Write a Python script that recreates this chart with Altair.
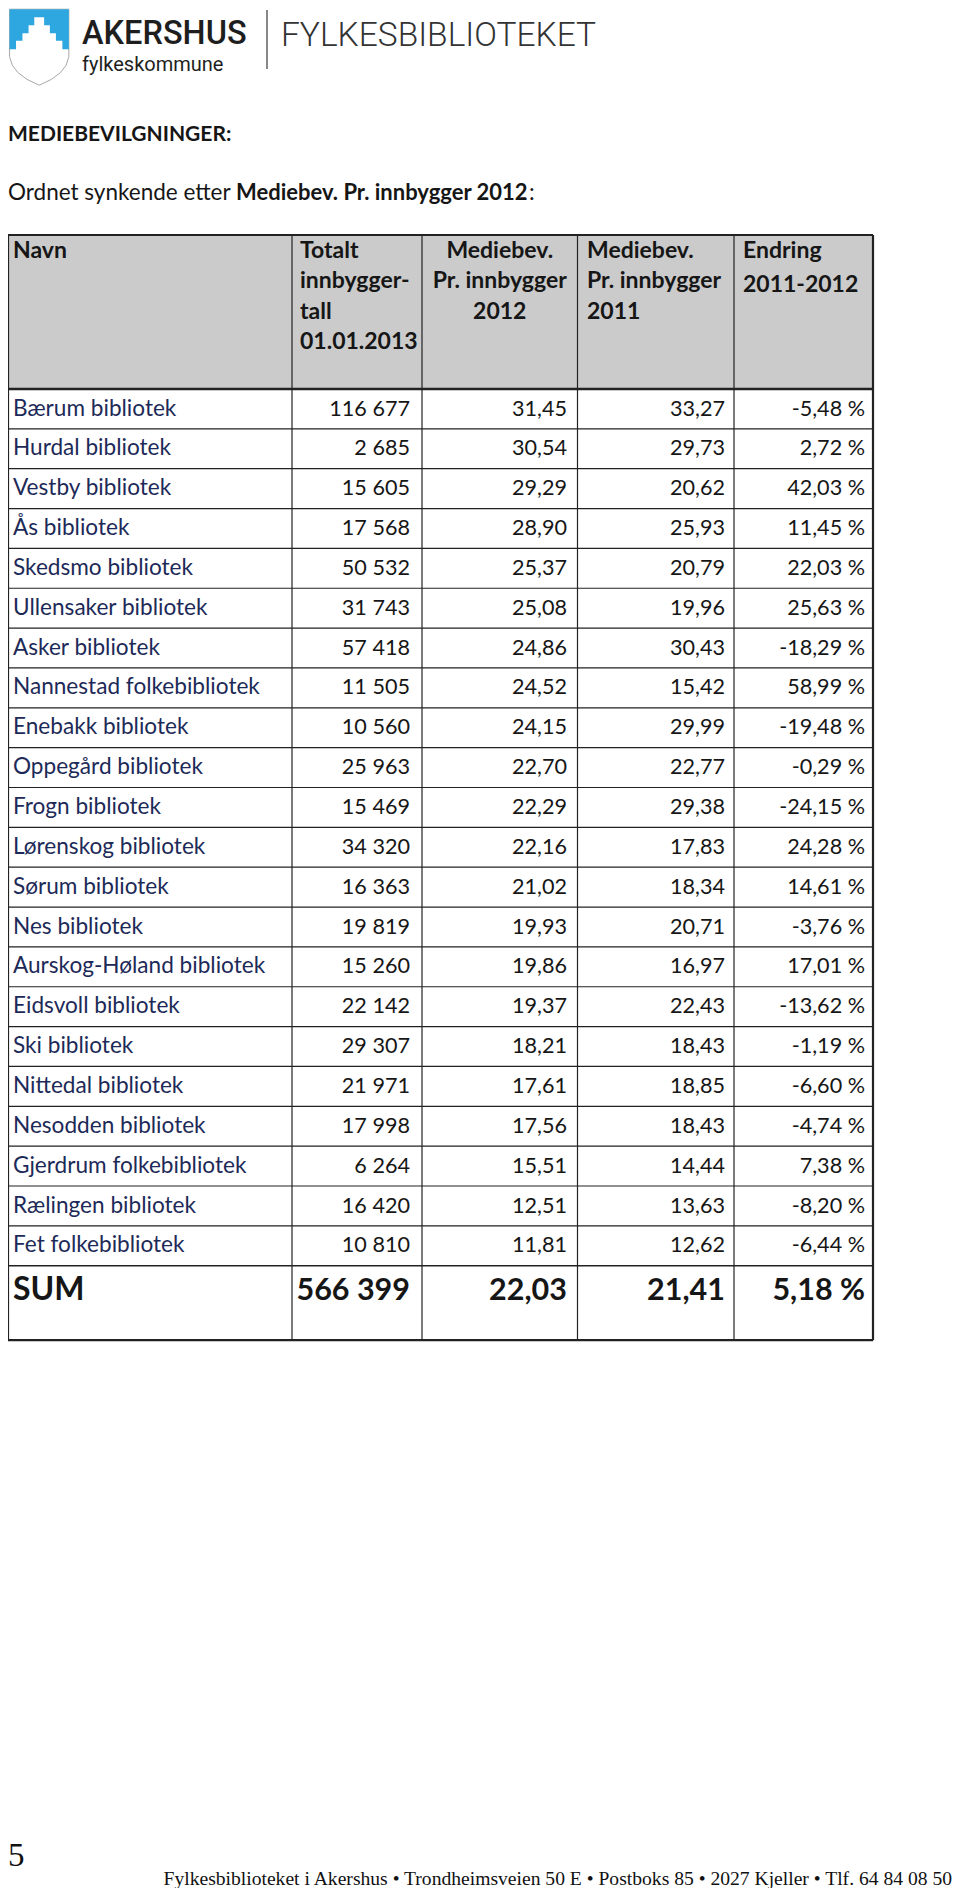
import altair as alt
import pandas as pd

W, H = 944, 1880

# ---------------- data ----------------
names = [
    "Bærum bibliotek", "Hurdal bibliotek", "Vestby bibliotek", "Ås bibliotek",
    "Skedsmo bibliotek", "Ullensaker bibliotek", "Asker bibliotek",
    "Nannestad folkebibliotek", "Enebakk bibliotek", "Oppegård bibliotek",
    "Frogn bibliotek", "Lørenskog bibliotek", "Sørum bibliotek", "Nes bibliotek",
    "Aurskog-Høland bibliotek", "Eidsvoll bibliotek", "Ski bibliotek",
    "Nittedal bibliotek", "Nesodden bibliotek", "Gjerdrum folkebibliotek",
    "Rælingen bibliotek", "Fet folkebibliotek",
]
population = [116677, 2685, 15605, 17568, 50532, 31743, 57418, 11505, 10560, 25963,
              15469, 34320, 16363, 19819, 15260, 22142, 29307, 21971, 17998, 6264,
              16420, 10810]
per_capita_2012 = [31.45, 30.54, 29.29, 28.90, 25.37, 25.08, 24.86, 24.52, 24.15, 22.70,
                   22.29, 22.16, 21.02, 19.93, 19.86, 19.37, 18.21, 17.61, 17.56, 15.51,
                   12.51, 11.81]
per_capita_2011 = [33.27, 29.73, 20.62, 25.93, 20.79, 19.96, 30.43, 15.42, 29.99, 22.77,
                   29.38, 17.83, 18.34, 20.71, 16.97, 22.43, 18.43, 18.85, 18.43, 14.44,
                   13.63, 12.62]
change_pct = [-5.48, 2.72, 42.03, 11.45, 22.03, 25.63, -18.29, 58.99, -19.48, -0.29,
              -24.15, 24.28, 14.61, -3.76, 17.01, -13.62, -1.19, -6.60, -4.74, 7.38,
              -8.20, -6.44]
sum_label = "SUM"
sum_values = [566399, 22.03, 21.41, 5.18]

header_lines = [
    ["Navn"],
    ["Totalt", "innbygger-", "tall", "01.01.2013"],
    ["Mediebev.", "Pr. innbygger", "2012"],
    ["Mediebev.", "Pr. innbygger", "2011"],
    ["Endring", "2011-2012"],
]

title_text = "MEDIEBEVILGNINGER:"
subtitle_regular = "Ordnet synkende etter"
subtitle_bold = "Mediebev. Pr. innbygger 2012"
footer_text = ("Fylkesbiblioteket i Akershus \u2022 Trondheimsveien 50 E \u2022 Postboks 85 "
               "\u2022 2027 Kjeller \u2022 Tlf. 64 84 08 50")
page_number = "5"


def fmt_int(v):
    return f"{v:,}".replace(",", " ")


def fmt_dec(v):
    return f"{v:.2f}".replace(".", ",")


def fmt_pct(v):
    return fmt_dec(v) + " %"


# ---------------- layout ----------------
col_edges = [0, 284, 414, 569.5, 726, 865]
table_top, header_bottom, row_h = 227, 381, 39.85
n = len(names)
data_bottom = header_bottom + n * row_h
sum_bottom = data_bottom + 74.5
num_right = [402, 559, 717, 857]
head_x = [5, 292, (col_edges[2] + col_edges[3]) / 2, 579, 735]
head_align = ["left", "left", "center", "left", "left"]
head_base, head_step = 250, 30.4

xs = alt.Scale(domain=[0, W], nice=False, zero=False)
ys = alt.Scale(domain=[0, H], nice=False, zero=False, reverse=True)
X = lambda f: alt.X(f, type="quantitative", scale=xs, axis=None)
Y = lambda f: alt.Y(f, type="quantitative", scale=ys, axis=None)

FONT = "Lato"
NAVY = "#1d2a58"
INK = "#161616"

# header background
bg = pd.DataFrame([{"x1": col_edges[0], "x2": col_edges[-1], "y1": table_top, "y2": header_bottom}])
bg_layer = alt.Chart(bg).mark_rect(color="#cbcbcb").encode(
    x=X("x1"), x2="x2", y=Y("y1"), y2="y2")

# horizontal rules
hl = [{"y": table_top, "w": 2.2}, {"y": header_bottom, "w": 2.4}]
for i in range(1, n + 1):
    hl.append({"y": header_bottom + i * row_h, "w": 1.2 if i < n else 1.4})
hl.append({"y": sum_bottom, "w": 2.2})
hdf = pd.DataFrame(hl)
hdf["x1"] = col_edges[0]
hdf["x2"] = col_edges[-1]
h_layer = alt.Chart(hdf).mark_rule(color="#222222").encode(
    x=X("x1"), x2="x2", y=Y("y"), strokeWidth=alt.StrokeWidth("w:Q", scale=None))

vdf = pd.DataFrame([{"x": e, "y1": table_top, "y2": sum_bottom,
                     "w": 2.2 if k in (0, len(col_edges) - 1) else 1.2}
                    for k, e in enumerate(col_edges)])
v_layer = alt.Chart(vdf).mark_rule(color="#222222").encode(
    x=X("x"), y=Y("y1"), y2="y2", strokeWidth=alt.StrokeWidth("w:Q", scale=None))

# header texts
hrows = []
for c, lines in enumerate(header_lines):
    for j, t in enumerate(lines):
        yy = head_base + j * head_step + (4 if (c == 4 and j == 1) else 0)
        hrows.append({"x": head_x[c], "y": yy, "text": t, "align": head_align[c]})
hdr = pd.DataFrame(hrows)
hdr_layers = []
for al in ["left", "center"]:
    hdr_layers.append(
        alt.Chart(hdr[hdr["align"] == al]).mark_text(
            align=al, baseline="alphabetic", font=FONT, fontWeight="bold",
            fontSize=23, color=INK).encode(x=X("x"), y=Y("y"), text="text:N"))

# data cells
name_df = pd.DataFrame({"text": names,
                        "y": [header_bottom + i * row_h + 26.5 for i in range(n)]})
name_df["x"] = 5
name_layer = alt.Chart(name_df).mark_text(
    align="left", baseline="alphabetic", font=FONT, fontSize=22.6, color=NAVY).encode(
    x=X("x"), y=Y("y"), text="text:N")

num_rows = []
for i in range(n):
    yy = header_bottom + i * row_h + 26.5
    vals = [fmt_int(population[i]), fmt_dec(per_capita_2012[i]),
            fmt_dec(per_capita_2011[i]), fmt_pct(change_pct[i])]
    for k, t in enumerate(vals):
        num_rows.append({"x": num_right[k], "y": yy, "text": t})
num_layer = alt.Chart(pd.DataFrame(num_rows)).mark_text(
    align="right", baseline="alphabetic", font=FONT, fontSize=21.6, color=INK).encode(
    x=X("x"), y=Y("y"), text="text:N")

sum_y = data_bottom + 34
sum_df = pd.DataFrame([{"x": num_right[k], "y": sum_y, "text": t} for k, t in enumerate(
    [fmt_int(sum_values[0]), fmt_dec(sum_values[1]), fmt_dec(sum_values[2]), fmt_pct(sum_values[3])])])
sum_num_layer = alt.Chart(sum_df).mark_text(
    align="right", baseline="alphabetic", font=FONT, fontWeight="bold", fontSize=30.5,
    color=INK).encode(x=X("x"), y=Y("y"), text="text:N")
sum_lab_layer = alt.Chart(pd.DataFrame([{"x": 5, "y": sum_y, "text": sum_label}])).mark_text(
    align="left", baseline="alphabetic", font=FONT, fontWeight="bold", fontSize=32,
    color=INK).encode(x=X("x"), y=Y("y"), text="text:N")

# titles
title_layer = alt.Chart(pd.DataFrame([{"x": 0, "y": 133, "text": title_text}])).mark_text(
    align="left", baseline="alphabetic", font=FONT, fontWeight="bold", fontSize=21,
    color=INK).encode(x=X("x"), y=Y("y"), text="text:N")
sub_reg = alt.Chart(pd.DataFrame([{"x": 0, "y": 191.5, "text": subtitle_regular},
                                  {"x": 521, "y": 191.5, "text": ":"}])).mark_text(
    align="left", baseline="alphabetic", font=FONT, fontSize=22.5, color=INK).encode(
    x=X("x"), y=Y("y"), text="text:N")
sub_bold = alt.Chart(pd.DataFrame([{"x": 228, "y": 191.5, "text": subtitle_bold}])).mark_text(
    align="left", baseline="alphabetic", font=FONT, fontWeight="bold", fontSize=22,
    color=INK).encode(x=X("x"), y=Y("y"), text="text:N")

# logo
shield_path = "M-0.78,-1 L0.78,-1 L0.78,0.25 Q0.72,0.72 0,1 Q-0.72,0.72 -0.78,0.25 Z"
blue_path = ("M-0.78,-1 L0.78,-1 L0.78,0.055 L0.61,0.055 L0.61,-0.17 L0.44,-0.17 "
             "L0.44,-0.37 L0.28,-0.37 L0.28,-0.58 L0.13,-0.58 L0.13,-0.79 L-0.13,-0.79 "
             "L-0.13,-0.58 L-0.28,-0.58 L-0.28,-0.37 L-0.44,-0.37 L-0.44,-0.17 "
             "L-0.61,-0.17 L-0.61,0.055 L-0.78,0.055 Z")
logo_pos = pd.DataFrame([{"x": 31.2, "y": 39.2}])
shield_layer = alt.Chart(logo_pos).mark_point(
    shape=shield_path, size=5776, filled=True, fill="white", stroke="#a8a8a8",
    strokeWidth=1, opacity=1).encode(x=X("x"), y=Y("y"))
blue_layer = alt.Chart(logo_pos).mark_point(
    shape=blue_path, size=5776, filled=True, fill="#2ea7e0", strokeWidth=0,
    opacity=1).encode(x=X("x"), y=Y("y"))
ak_layer = alt.Chart(pd.DataFrame([{"x": 74, "y": 36, "text": "AKERSHUS"}])).mark_text(
    align="left", baseline="alphabetic", font="Roboto", fontWeight=500, fontSize=32.5,
    color="#1e1e1e").encode(x=X("x"), y=Y("y"), text="text:N")
fk_layer = alt.Chart(pd.DataFrame([{"x": 74, "y": 63, "text": "fylkeskommune"}])).mark_text(
    align="left", baseline="alphabetic", font="Roboto", fontSize=20,
    color="#1e1e1e").encode(x=X("x"), y=Y("y"), text="text:N")
sep_layer = alt.Chart(pd.DataFrame([{"x": 259, "y1": 2, "y2": 61}])).mark_rule(
    color="#555555", strokeWidth=1.4).encode(x=X("x"), y=Y("y1"), y2="y2")
fb_layer = alt.Chart(pd.DataFrame([{"x": 273, "y": 38, "text": "FYLKESBIBLIOTEKET"}])).mark_text(
    align="left", baseline="alphabetic", font="Roboto", fontWeight=300, fontSize=33.5,
    color="#333333").encode(x=X("x"), y=Y("y"), text="text:N")

# footer
pg_layer = alt.Chart(pd.DataFrame([{"x": 0, "y": 1858, "text": page_number}])).mark_text(
    align="left", baseline="alphabetic", font="Liberation Serif", fontSize=33,
    color="#111111").encode(x=X("x"), y=Y("y"), text="text:N")
ft_layer = alt.Chart(pd.DataFrame([{"x": 944, "y": 1877, "text": footer_text}])).mark_text(
    align="right", baseline="alphabetic", font="Liberation Serif", fontSize=19.6,
    color="#111111").encode(x=X("x"), y=Y("y"), text="text:N")

chart = alt.layer(
    bg_layer, h_layer, v_layer, *hdr_layers, name_layer, num_layer, sum_num_layer,
    sum_lab_layer, title_layer, sub_reg, sub_bold, shield_layer, blue_layer,
    ak_layer, fk_layer, sep_layer, fb_layer, pg_layer, ft_layer,
).properties(
    width=W, height=H, padding=0, autosize=alt.AutoSizeParams(type="none")
).configure_view(stroke=None)

chart.save("out.html", embed_options={"renderer": "svg", "actions": False})
